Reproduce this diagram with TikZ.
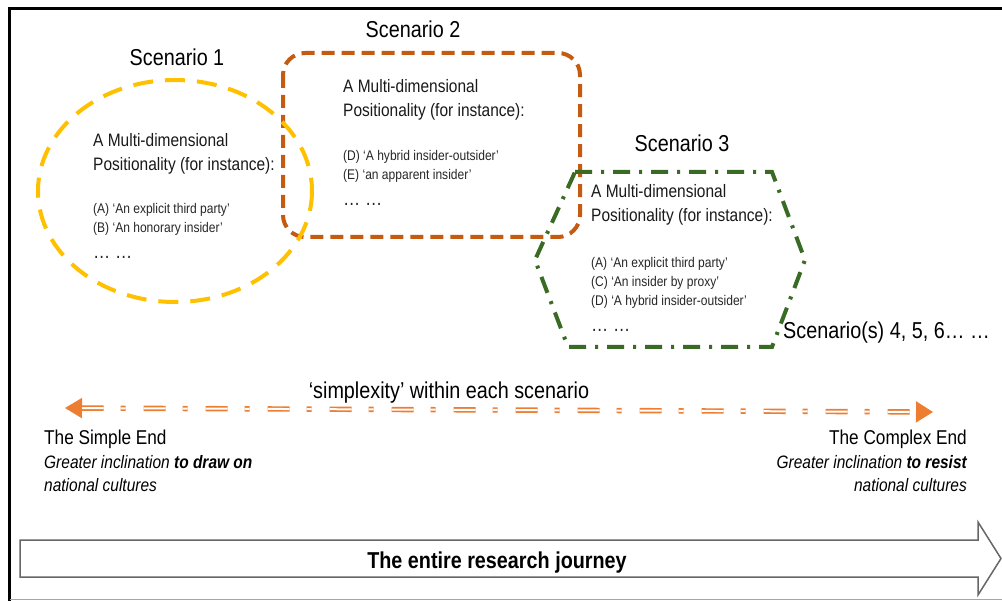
\documentclass[tikz,border=0pt]{standalone}
\usepackage{fontspec}
\setmainfont{Liberation Sans}[FakeStretch=0.86]
\usetikzlibrary{arrows.meta}
\definecolor{sOneYellow}{HTML}{FFC000}
\definecolor{sTwoOrange}{HTML}{C55A11}
\definecolor{sThreeGreen}{HTML}{3A6B24}
\definecolor{lineOrange}{HTML}{ED7D31}

\begin{document}
\begin{tikzpicture}[x=1pt,y=-1pt,
	title node/.style={font=\fontsize{23}{28}\selectfont, inner sep=0pt, anchor=base},
	head node/.style={font=\fontsize{18}{24}\selectfont, align=left, inner sep=0pt, anchor=north west, text=black!90},
	item node/.style={font=\fontsize{14}{19}\selectfont, align=left, inner sep=0pt, anchor=north west, text=black!85},
	end node/.style={font=\fontsize{20}{24}\selectfont, inner sep=0pt},
	note node/.style={font=\fontsize{18}{23}\selectfont\itshape, inner sep=0pt}]

	\def\moredots{{\fontsize{20}{19}\selectfont … …}}

	\useasboundingbox (0,0) rectangle (1002,601);

	% frame
	\draw[line width=3] (9.5,601) -- (9.5,8.5) -- (1002,8.5);
	\draw[black!35, line width=1] (9.5,599.5) -- (1002,599.5);

	% the three scenarios
	\draw[sTwoOrange, line width=4, dash pattern=on 13 off 7, rounded corners=22] (283,53) rectangle (580,237);
	\draw[sOneYellow, line width=4, dash pattern=on 20 off 12] (175,191) ellipse [x radius=137, y radius=111];
	\draw[sThreeGreen, line width=4, dash pattern=on 17 off 9 on 3 off 9] (575,172) -- (772,172) -- (805,260) -- (772,347) -- (568,347) -- (535,260) -- cycle;

	\node[title node] (s1) at (177,66) {Scenario 1};
	\node[title node] (s2) at (413,38) {Scenario 2};
	\node[title node] (s3) at (682,152) {Scenario 3};
	\node[title node, anchor=base west] (s4) at (783,339) {Scenario(s) 4, 5, 6… …};

	\node[head node] (h1) at (93,133) {A Multi-dimensional\\Positionality (for instance):};
	\node[item node] (i1) at (93,203) {(A) ‘An explicit third party’\\(B) ‘An honorary insider’\\[7pt]\moredots};

	\node[head node] (h2) at (343,79) {A Multi-dimensional\\Positionality (for instance):};
	\node[item node] (i2) at (343,150) {(D) ‘A hybrid insider-outsider’\\(E) ‘an apparent insider’\\[7pt]\moredots};

	\node[head node] (h3) at (591,184) {A Multi-dimensional\\Positionality (for instance):};
	\node[item node] (i3) at (591,257) {(A) ‘An explicit third party’\\(C) ‘An insider by proxy’\\(D) ‘A hybrid insider-outsider’\\[7pt]\moredots};

	% simplexity line
	\node[title node] (mid) at (449,399) {‘simplexity’ within each scenario};
	\coordinate (simple end) at (65,408);
	\coordinate (complex end) at (933,412);
	\draw[lineOrange, line width=1.7, double=white, double distance=2, dash pattern=on 22 off 17 on 5 off 18,
		{Triangle[length=17pt,width=20pt]}-{Triangle[length=17pt,width=21pt]}] (simple end) -- (complex end);

	\node[end node, anchor=base west] (simple) at (44,445) {The Simple End};
	\node[note node, anchor=north west, align=left] (simple note) at (44,455) {Greater inclination \textbf{to draw on}\\national cultures};
	\node[end node, anchor=base east] (complex) at (967,445) {The Complex End};
	\node[note node, anchor=north east, align=right] (complex note) at (967,455) {Greater inclination \textbf{to resist}\\national cultures};

	% journey arrow
	\draw[black!60, line width=1.5] (20,540) -- (978,540) -- (978,522) -- (1001,558.5) -- (978,595) -- (978,577) -- (20,577) -- cycle;
	\node[font=\fontsize{23}{28}\selectfont\bfseries, anchor=base] (journey) at (497,568) {The entire research journey};
\end{tikzpicture}
\end{document}
